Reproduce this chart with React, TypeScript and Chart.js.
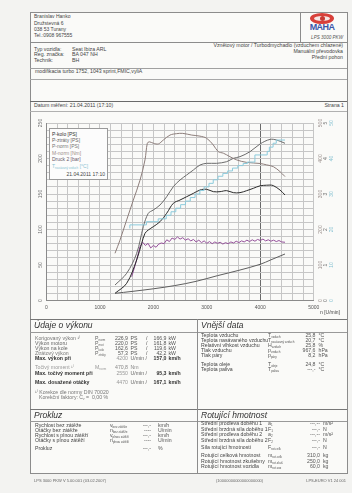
import React, { useEffect, useRef } from 'react';
import { Chart, registerables } from 'chart.js';
Chart.register(...registerables);

// ---- data ----
const rpmTicks = [0, 1000, 2000, 3000, 4000, 5000];
const psTicks = [0, 50, 100, 150, 200, 250];
const nmTicks = [0, 100, 200, 300, 400, 500];
const barTicks = [0, 1, 2, 3, 4, 5];
const tempTicks = [0, 10, 20, 30, 40, 50];

const torqueRpm = [1282, 1375, 1500, 1625, 1750, 1843, 1887, 1924, 1999, 2093, 2186, 2311, 2436, 2550, 2717, 2872, 2997, 3122, 3215, 3309, 3434, 3559, 3746, 3995, 4120, 4245, 4370, 4463];
const torqueNm = [133, 170, 227, 283, 339, 396, 443, 447, 443, 441, 452, 466, 470, 470.8, 466, 463, 457, 438, 419, 415, 405, 396, 389, 386, 382, 377, 363, 349];

const pNormRpm = [1282, 1500, 1687, 1812, 1905, 1999, 2124, 2249, 2373, 2498, 2623, 2748, 2872, 2997, 3184, 3371, 3496, 3621, 3808, 3995, 4182, 4307, 4463];
const pNormPs = [21.8, 38.3, 66.4, 104, 122.8, 127.5, 134.5, 146.2, 160.3, 169.7, 176.8, 183.8, 190.8, 193.2, 193.2, 195.5, 200.2, 202.6, 209.6, 220.4, 226.9, 226, 221.4];

const pKoloRpm = [1282, 1500, 1687, 1781, 1843, 1905, 1999, 2124, 2249, 2373, 2498, 2623, 2748, 2872, 2997, 3122, 3247, 3371, 3496, 3621, 3746, 3870, 3995, 4120, 4182, 4245, 4370, 4463];
const pKoloPs = [10.1, 24.2, 57, 80.5, 94.6, 99.3, 104, 111, 122.8, 136.9, 141.5, 146.2, 150.9, 155.6, 156.6, 153.3, 153.3, 154.7, 151.9, 151.9, 154.7, 158, 161.5, 162.4, 162.6, 161.8, 155.6, 148.6];

const lossRpm = [1282, 1600, 2000, 2400, 2800, 3200, 3600, 4000, 4200, 4463];
const lossPs = [10.1, 12.8, 16.5, 21, 27, 35, 42.5, 51, 57.3, 65.5];

const boostRpm = [1594, 1650, 1700, 1750, 1800, 1850, 1900, 1950, 2000, 2050, 2100, 2150, 2200, 2250, 2300, 2350, 2400, 2450, 2500, 2550, 2600, 2650, 2700, 2750, 2800, 2850, 2900, 2950, 3000, 3050, 3100, 3150, 3200, 3250, 3300, 3350, 3400, 3450, 3500, 3550, 3600, 3650, 3700, 3750, 3800, 3850, 3900, 3950, 4000, 4050, 4100, 4150, 4200, 4250, 4300, 4350, 4400, 4463];
const boostBar = [0.67, 0.95, 1.22, 1.52, 1.64, 1.55, 1.61, 1.48, 1.55, 1.50, 1.59, 1.62, 1.60, 1.71, 1.66, 1.76, 1.72, 1.79, 1.73, 1.77, 1.70, 1.74, 1.68, 1.72, 1.65, 1.70, 1.63, 1.68, 1.61, 1.66, 1.60, 1.65, 1.61, 1.64, 1.59, 1.63, 1.60, 1.65, 1.62, 1.67, 1.63, 1.68, 1.65, 1.70, 1.66, 1.71, 1.67, 1.72, 1.69, 1.73, 1.68, 1.71, 1.67, 1.70, 1.66, 1.69, 1.65, 1.64];

const tempRpm = [1560, 1870, 2090, 2240, 2330, 2420, 2510, 2600, 2690, 2780, 2870, 2950, 3040, 3120, 3210, 3300, 3390, 3480, 3580, 3680, 3760, 3900, 4130, 4170, 4240, 4300, 4350, 4463];
const tempC = [20.3, 21.3, 22.2, 23.0, 24.0, 25.0, 26.0, 27.0, 28.0, 29.0, 30.0, 31.0, 32.0, 33.0, 34.0, 35.0, 35.8, 36.5, 37.3, 38.0, 38.6, 39.0, 41.0, 42.0, 43.2, 44.3, 45.2, 45.2];

const FONT = '"Liberation Sans", Arial, sans-serif';

const pts = (xs: number[], ys: number[]) => xs.map((x, i) => ({ x, y: ys[i] }));

const axisLabelsPlugin = {
  id: 'axisLabels',
  afterDraw(chart: any) {
    const ctx = chart.ctx;
    const ca = chart.chartArea;
    const rot = (text: string, x: number, y: number, color: string) => {
      ctx.save();
      ctx.translate(x, y);
      ctx.rotate(-Math.PI / 2);
      ctx.fillStyle = color;
      ctx.font = '5px ' + FONT;
      ctx.textAlign = 'center';
      ctx.textBaseline = 'middle';
      ctx.fillText(text, 0, 0);
      ctx.restore();
    };
    psTicks.forEach(v => rot(String(v), ca.left - 6, chart.scales.ps.getPixelForValue(v), '#6f6f6f'));
    nmTicks.forEach(v => rot(String(v), ca.right + 7, chart.scales.nm.getPixelForValue(v), '#9a8f8c'));
    barTicks.forEach(v => rot(String(v), ca.right + 12, chart.scales.bar.getPixelForValue(v), '#707070'));
    tempTicks.forEach(v => rot(String(v), ca.right + 18, chart.scales.temp.getPixelForValue(v), '#88c2d2'));
  },
};

function DynoChart() {
  const ref = useRef<HTMLCanvasElement>(null);
  useEffect(() => {
    const line = (label: string, data: any, axis: string, color: string, extra: any = {}) => ({
      label, data, yAxisID: axis, borderColor: color, backgroundColor: color,
      borderWidth: 1, pointRadius: 0, tension: 0.35, fill: false, ...extra,
    });
    const chart = new Chart(ref.current as HTMLCanvasElement, {
      type: 'line',
      data: {
        datasets: [
          line('T nasávaný vzduch [°C]', pts(tempRpm, tempC), 'temp', '#8ccbdc', { stepped: 'after', tension: 0 }),
          line('P-ztráty [PS]', pts(lossRpm, lossPs), 'ps', '#5e5e5e'),
          line('M-norm [Nm]', pts(torqueRpm, torqueNm), 'nm', '#8c7d7a'),
          line('P-norm [PS]', pts(pNormRpm, pNormPs), 'ps', '#6a6a6a'),
          line('P-kolo [PS]', pts(pKoloRpm, pKoloPs), 'ps', '#2a2a2a'),
          line('Druck 2 [bar]', pts(boostRpm, boostBar), 'bar', '#94509a', { tension: 0 }),
        ],
      } as any,
      options: {
        animation: false,
        responsive: false,
        devicePixelRatio: 1,
        layout: { padding: { top: 12, right: 33.3, left: 0, bottom: 0 } },
        plugins: { legend: { display: false }, tooltip: { enabled: false } },
        scales: {
          x: {
            type: 'linear', min: 0, max: 5000,
            ticks: {
              stepSize: 200, autoSkip: false, maxRotation: 0, minRotation: 0, maxTicksLimit: 100,
              callback: (v: any) => (rpmTicks.includes(v) ? String(v) : ''),
              font: { size: 5, family: FONT }, color: '#555', padding: 4,
            },
            grid: {
              color: (c: any) => (c.tick && c.tick.value === 4000 ? '#6a6a6a' : '#c6c6c6'),
              drawTicks: false,
            },
            border: { color: '#8a8a8a' },
            afterFit: (s: any) => { s.height = 17.5; },
          },
          ps: {
            type: 'linear', position: 'left', min: 0, max: 250,
            ticks: { stepSize: 10, display: false, maxTicksLimit: 100 },
            grid: { color: '#c6c6c6', drawTicks: false },
            border: { color: '#8a8a8a' },
            afterFit: (s: any) => { s.width = 16.5; },
          },
          nm: { type: 'linear', position: 'right', min: 0, max: 500, display: false },
          bar: { type: 'linear', position: 'right', min: 0, max: 5, display: false },
          temp: { type: 'linear', position: 'right', min: 0, max: 50, display: false },
        },
      } as any,
      plugins: [axisLabelsPlugin],
    });
    return () => chart.destroy();
  }, []);
  return <canvas ref={ref} width={317} height={207} style={{ width: 317, height: 207, display: 'block' }} />;
}

// ---- page helpers ----
type TP = { x: number; y: number; s?: number; c?: string; b?: boolean; i?: boolean; r?: boolean; children: any };
function T({ x, y, s = 5.2, c = '#444', b, i, r, children }: TP) {
  const style: any = {
    position: 'absolute', top: y - s / 2, fontSize: s, lineHeight: s + 'px', color: c,
    fontWeight: b ? 'bold' : 'normal', fontStyle: i ? 'italic' : 'normal', whiteSpace: 'nowrap', fontFamily: FONT,
  };
  if (r) { style.right = 352 - x; } else { style.left = x; }
  return <div style={style}>{children}</div>;
}
function Sym({ x, y, m, sub, c = '#555' }: { x: number; y: number; m: string; sub: string; c?: string }) {
  return (
    <div style={{ position: 'absolute', left: x, top: y - 2.6, fontSize: 5.2, lineHeight: '5.2px', height: 5.2, color: c, whiteSpace: 'nowrap', fontFamily: FONT }}>
      {m}<span style={{ fontSize: 3, lineHeight: '3px', verticalAlign: '-1px' }}>{sub}</span>
    </div>
  );
}
function HL({ y, x1 = 30, x2 = 347, c = '#8c8c8c' }: { y: number; x1?: number; x2?: number; c?: string }) {
  return <div style={{ position: 'absolute', left: x1, top: y, width: x2 - x1, height: 1, background: c }} />;
}
function VL({ x, y1, y2, c = '#8c8c8c' }: { x: number; y1: number; y2: number; c?: string }) {
  return <div style={{ position: 'absolute', left: x, top: y1, width: 1, height: y2 - y1, background: c }} />;
}

const perfRows = [
  { y: 338.3, l: 'Korigovaný výkon ¹⁾', m: 'P', sub: 'norm', v: '226,9', u: 'PS', v2: '166,9', u2: 'kW', lc: '#777' },
  { y: 343.3, l: 'Výkon motoru', m: 'P', sub: 'mot', v: '220,0', u: 'PS', v2: '161,8', u2: 'kW', lc: '#666' },
  { y: 348.7, l: 'Výkon na kole', m: 'P', sub: 'kolo', v: '162,6', u: 'PS', v2: '119,6', u2: 'kW', lc: '#666' },
  { y: 353.7, l: 'Ztrátový výkon', m: 'P', sub: 'ztráty', v: '57,3', u: 'PS', v2: '42,2', u2: 'kW', lc: '#777' },
];
const outerRows = [
  { y: 335.5, l: 'Teplota vzduchu', m: 'T', sub: 'vzduch', v: '25,8', u: '°C' },
  { y: 340.5, l: 'Teplota nasávaného vzduchu', m: 'T', sub: 'nasávaný vzduch', v: '20,7', u: '°C' },
  { y: 346, l: 'Relativní vlhkost vzduchu', m: 'H', sub: 'vzduch', v: '25,8', u: '%' },
  { y: 351, l: 'Tlak vzduchu', m: 'p', sub: 'vzduch', v: '967,6', u: 'hPa' },
  { y: 356, l: 'Tlak páry', m: 'p', sub: 'páry', v: '8,2', u: 'hPa' },
  { y: 364.2, l: 'Teplota oleje', m: 'T', sub: 'oleje', v: '24,8', u: '°C' },
  { y: 369.2, l: 'Teplota paliva', m: 'T', sub: 'paliva', v: '---,-', u: '°C' },
];
const slipRows = [
  { y: 425.5, l: 'Rychlost bez zátěže', m: 'v', sub: 'bez zátěže', v: '---,-', u: 'km/h' },
  { y: 430.8, l: 'Otáčky bez zátěže', m: 'n', sub: 'bez zátěže', v: '----', u: 'U/min' },
  { y: 435.8, l: 'Rychlost s plnou zátěží', m: 'v', sub: 'plnou zátěží', v: '---,-', u: 'km/h' },
  { y: 440.8, l: 'Otáčky s plnou zátěží', m: 'n', sub: 'plnou zátěží', v: '----', u: 'U/min' },
  { y: 448.6, l: 'Prokluz', m: '', sub: '', v: '---,-', u: '%' },
];
const rotRows = [
  { y: 424, l: 'Střední prodleva doběhu 1', m: 'a', sub: '1', v: '---,--', u: 'm/s²' },
  { y: 429.5, l: 'Střední brzdná síla doběhu 1', m: 'F', sub: '1', v: '---,-', u: 'N' },
  { y: 434.8, l: 'Střední prodleva doběhu 2', m: 'a', sub: '2', v: '---,--', u: 'm/s²' },
  { y: 440.5, l: 'Střední brzdná síla doběhu 2', m: 'F', sub: '2', v: '---,-', u: 'N' },
  { y: 448, l: 'Síla rotující hmotnosti', m: 'F', sub: 'rot.celk', v: '---,-', u: 'N' },
  { y: 455.8, l: 'Rotující celková hmotnost', m: 'm', sub: 'rot.celk', v: '310,0', u: 'kg' },
  { y: 461.3, l: 'Rotující hmotnost zkušebny', m: 'm', sub: 'rot.zkuš', v: '250,0', u: 'kg' },
  { y: 466.3, l: 'Rotující hmotnost vozidla', m: 'm', sub: 'rot.voz', v: '60,0', u: 'kg' },
];

function Logo() {
  return (
    <>
      <div style={{ position: 'absolute', left: 310, top: 13, width: 24, height: 11, borderRadius: '50%', background: '#d8403a' }} />
      <div style={{ position: 'absolute', left: 314, top: 16, width: 16, height: 5, borderRadius: '50%', background: '#f6e6e4' }} />
      <div style={{ position: 'absolute', left: 319.5, top: 16, width: 5, height: 5, borderRadius: '50%', background: '#c83a34' }} />
      <div style={{ position: 'absolute', left: 306, top: 23, width: 32, textAlign: 'center', fontSize: 9, lineHeight: '9px', fontWeight: 'bold', color: '#3a56a8', fontFamily: FONT, letterSpacing: -0.6 }}>MAHA</div>
      <T x={343} y={38.5} s={4.6} c="#555" i r>LPS 3000 PKW</T>
    </>
  );
}

export default function App() {
  return (
    <div style={{ position: 'absolute', left: 0, top: 0, width: 352, height: 493, background: '#f3f3f1', overflow: 'hidden', fontFamily: FONT }}>
      <div style={{ position: 'absolute', left: 30, top: 12, width: 316, height: 460, border: '1px solid #8c8c8c', background: '#fafaf8' }} />
      {/* header */}
      <VL x={300} y1={12} y2={42} />
      <HL y={42} />
      <HL y={68} c="#a0a0a0" />
      <HL y={79} c="#a8a8a8" />
      <HL y={101} c="#6a6a6a" />
      <HL y={111} c="#b0b0b0" />
      <HL y={319} c="#777" />
      <HL y={332} c="#999" />
      <HL y={409} c="#777" />
      <HL y={421} c="#999" />
      <VL x={197} y1={319} y2={473} />

      <T x={34} y={16.5} s={5}>Branislav Hanko</T>
      <T x={34} y={23} s={5}>Družstevná 6</T>
      <T x={34} y={29} s={5}>038 53 Turany</T>
      <T x={34} y={35} s={5}>Tel.:0908 967555</T>
      <Logo />

      <T x={34} y={49.3}>Typ vozidla:</T>
      <T x={34} y={55}>Reg. značka:</T>
      <T x={34} y={60.7}>Technik:</T>
      <T x={72} y={49.3}>Seat Ibiza ARL</T>
      <T x={72} y={55}>BA 047 NH</T>
      <T x={72} y={60.7}>BH</T>
      <T x={343} y={45.7} r>Vznětový motor / Turbodmychadlo (vzduchem chlazené)</T>
      <T x={343} y={51.7} r>Manuální převodovka</T>
      <T x={343} y={57.3} r>Přední pohon</T>
      <T x={35} y={72}>modifikacia turbo 1752, 1043 sprint,FMIC,vyliA</T>

      <T x={34} y={106}>Datum měření: 21.04.2011 (17:10)</T>
      <T x={344} y={106} r>Strana 1</T>

      {/* chart */}
      <div style={{ position: 'absolute', left: 30, top: 111, width: 317, height: 207 }}>
        <DynoChart />
      </div>
      <div style={{ position: 'absolute', left: 49, top: 128, width: 57, height: 50, border: '1px solid #9a9a9a', background: '#fcfcfc' }} />
      <T x={52} y={134} s={5} c="#333">P-kolo [PS]</T>
      <T x={52} y={140.2} s={5} c="#666">P-ztráty [PS]</T>
      <T x={52} y={146.5} s={5} c="#777">P-norm [PS]</T>
      <T x={52} y={153} s={5} c="#a08f8a">M-norm [Nm]</T>
      <T x={52} y={159.3} s={5} c="#6a5a6a">Druck 2 [bar]</T>
      <div style={{ position: 'absolute', left: 52, top: 163.5, fontSize: 5, lineHeight: '5px', color: '#88c2d2', whiteSpace: 'nowrap', fontFamily: FONT }}>
        T<span style={{ fontSize: 3, verticalAlign: '-1px' }}>nasávaný vzduch</span> [°C]
      </div>
      <T x={105} y={174} s={5} c="#444" r>21.04.2011 17:10</T>
      <T x={320} y={312.5} s={5} c="#444">n [U/min]</T>

      {/* performance */}
      <T x={34} y={325.5} s={8.5} c="#333" i>Údaje o výkonu</T>
      {perfRows.map((r, k) => (
        <React.Fragment key={k}>
          <T x={35} y={r.y} c={r.lc}>{r.l}</T>
          <Sym x={95} y={r.y} m={r.m} sub={r.sub} c="#666" />
          <T x={128} y={r.y} c="#555" r>{r.v}</T>
          <T x={130.5} y={r.y} c="#555">{r.u}</T>
          <T x={146} y={r.y} c="#555">/</T>
          <T x={166.5} y={r.y} c="#555" r>{r.v2}</T>
          <T x={168.5} y={r.y} c="#555">{r.u2}</T>
        </React.Fragment>
      ))}
      <T x={35} y={358.7} b c="#333">Max. výkon při</T>
      <T x={128} y={358.7} c="#999" r>4200</T>
      <T x={130.5} y={358.7} c="#666">U/min /</T>
      <T x={166.5} y={358.7} b c="#333" r>157,0</T>
      <T x={168.5} y={358.7} b c="#333">km/h</T>
      <T x={35} y={367.7} c="#999">Točivý moment ¹⁾</T>
      <Sym x={95} y={367.7} m="M" sub="norm" c="#999" />
      <T x={128} y={367.7} c="#888" r>470,8</T>
      <T x={130.5} y={367.7} c="#888">Nm</T>
      <T x={35} y={373.7} b c="#333">Max. točivý moment při</T>
      <T x={128} y={373.7} c="#999" r>2550</T>
      <T x={130.5} y={373.7} c="#666">U/min /</T>
      <T x={166.5} y={373.7} b c="#333" r>95,3</T>
      <T x={168.5} y={373.7} b c="#333">km/h</T>
      <T x={35} y={382.2} b c="#333">Max. dosažené otáčky</T>
      <T x={128} y={382.2} c="#999" r>4470</T>
      <T x={130.5} y={382.2} c="#666">U/min /</T>
      <T x={166.5} y={382.2} b c="#333" r>167,1</T>
      <T x={168.5} y={382.2} b c="#333">km/h</T>
      <T x={35} y={392.7} c="#777">¹⁾ Korekce dle normy DIN 70020</T>
      <div style={{ position: 'absolute', left: 39, top: 395.2, fontSize: 5.2, lineHeight: '5.2px', color: '#777', whiteSpace: 'nowrap', fontFamily: FONT }}>
        Korekční faktory: C<span style={{ fontSize: 3, verticalAlign: '-1px' }}>v</span> =&nbsp;&nbsp;0,00 %
      </div>

      {/* outer data */}
      <T x={201} y={325.5} s={8.5} c="#333" i>Vnější data</T>
      {outerRows.map((r, k) => (
        <React.Fragment key={k}>
          <T x={201} y={r.y}>{r.l}</T>
          <Sym x={268} y={r.y} m={r.m} sub={r.sub} />
          <T x={315.5} y={r.y} c="#555" r>{r.v}</T>
          <T x={318.5} y={r.y} c="#555">{r.u}</T>
        </React.Fragment>
      ))}

      {/* slip */}
      <T x={34} y={415} s={8.5} c="#333" i>Prokluz</T>
      {slipRows.map((r, k) => (
        <React.Fragment key={k}>
          <T x={35} y={r.y}>{r.l}</T>
          {r.m ? <Sym x={110} y={r.y} m={r.m} sub={r.sub} /> : null}
          <T x={151} y={r.y} c="#555" r>{r.v}</T>
          <T x={158} y={r.y} c="#555">{r.u}</T>
        </React.Fragment>
      ))}

      {/* rotating mass */}
      <T x={201} y={415} s={8.5} c="#333" i>Rotující hmotnost</T>
      {rotRows.map((r, k) => (
        <React.Fragment key={k}>
          <T x={201} y={r.y}>{r.l}</T>
          <Sym x={268} y={r.y} m={r.m} sub={r.sub} />
          <T x={320} y={r.y} c="#555" r>{r.v}</T>
          <T x={323} y={r.y} c="#555">{r.u}</T>
        </React.Fragment>
      ))}

      {/* footer */}
      <T x={34} y={481} s={4} c="#666">LPS 3000 PKW V 5.00.001 (03.02.2007)</T>
      <T x={216} y={481} s={4} c="#666">(10000000000000000000)</T>
      <T x={346} y={481} s={4} c="#666" r>LPS-EURO V1 24 001</T>
    </div>
  );
}
